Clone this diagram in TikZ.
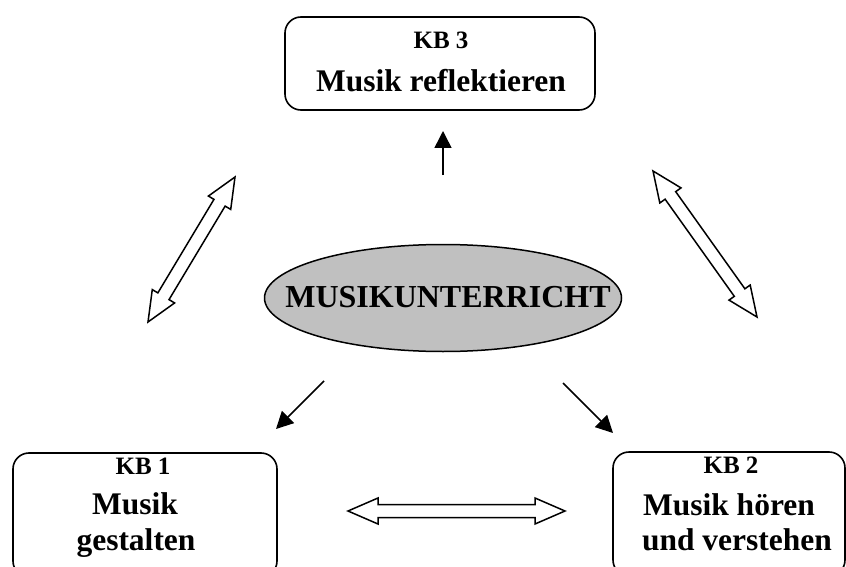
\documentclass[tikz,border=0pt]{standalone}
\usepackage{fontspec}
\setmainfont{Liberation Serif}
\usetikzlibrary{shapes.geometric,arrows.meta,calc}
\definecolor{ellgray}{HTML}{C0C0C0}
\tikzset{
  box/.style={draw, line width=1.6pt, rounded corners=16pt, inner sep=0pt},
  lbl/.style={anchor=base, inner sep=0pt, font=\bfseries},
  thin arrow/.style={line width=1.5pt, -{Triangle[length=17pt,width=17pt]}},
  fat/.style={draw, line width=1.5pt, line join=miter, fill=white},
}
\newcommand\hl{30pt}
\newcommand\hw{13pt}
\newcommand\sw{6.5pt}
\newcommand\fatarr[2]{%
  \draw[fat] (#1)
    -- ($($(#1)!\hl!(#2)$)!\hw!90:(#2)$)
    -- ($($(#1)!\hl!(#2)$)!\sw!90:(#2)$)
    -- ($($(#2)!\hl!(#1)$)!\sw!90:(#2)$)
    -- ($($(#2)!\hl!(#1)$)!\hw!90:(#2)$)
    -- (#2)
    -- ($($(#2)!\hl!(#1)$)!\hw!-90:(#2)$)
    -- ($($(#2)!\hl!(#1)$)!\sw!-90:(#2)$)
    -- ($($(#1)!\hl!(#2)$)!\sw!-90:(#2)$)
    -- ($($(#1)!\hl!(#2)$)!\hw!-90:(#2)$)
    -- cycle;}
\begin{document}
\begin{tikzpicture}[x=1pt, y=-1pt]
\useasboundingbox (0,0) rectangle (846,567);

% boxes
\node[box, minimum width=310pt, minimum height=93pt] (kb3) at (440,63.5) {};
\node[box, minimum width=264pt, minimum height=124pt] (kb1) at (145,515) {};
\node[box, minimum width=232pt, minimum height=124pt] (kb2) at (729,514) {};

% texts
\node[lbl, font=\bfseries\fontsize{25}{30}\selectfont] (t3a) at (441,49) {KB 3};
\node[lbl, font=\bfseries\fontsize{31.5}{36}\selectfont] (t3b) at (441,92) {Musik reflektieren};
\node[lbl, font=\bfseries\fontsize{25}{30}\selectfont] (t1a) at (143,474) {KB 1};
\node[lbl, font=\bfseries\fontsize{31.5}{36}\selectfont] (t1b) at (135,514) {Musik};
\node[lbl, font=\bfseries\fontsize{31.5}{36}\selectfont] (t1c) at (136,550) {gestalten};
\node[lbl, font=\bfseries\fontsize{25}{30}\selectfont] (t2a) at (731,473) {KB 2};
\node[lbl, font=\bfseries\fontsize{31.5}{36}\selectfont] (t2b) at (729,515) {Musik hören};
\node[lbl, font=\bfseries\fontsize{31.5}{36}\selectfont] (t2c) at (737,550) {und verstehen};

% central ellipse
\node[ellipse, draw, line width=1.5pt, fill=ellgray, minimum width=357pt, minimum height=107pt, inner sep=0pt] (mu) at (443,298) {};
\node[lbl, font=\bfseries\fontsize{32}{36}\selectfont] (mut) at (448,307) {MUSIKUNTERRICHT};

% thin arrows
\coordinate (u1) at (443,175); \coordinate (u2) at (443,131);
\coordinate (l1) at (324,381); \coordinate (l2) at (276,429);
\coordinate (r1) at (563,383); \coordinate (r2) at (613,433);
\draw[thin arrow] (u1) -- (u2);
\draw[thin arrow] (l1) -- (l2);
\draw[thin arrow] (r1) -- (r2);

% fat double arrows
\coordinate (fa1) at (148,322); \coordinate (fa2) at (235,177);
\coordinate (fb1) at (653,171); \coordinate (fb2) at (757,317);
\coordinate (fc1) at (348,511); \coordinate (fc2) at (565,511);
\fatarr{fa1}{fa2}
\fatarr{fb1}{fb2}
\fatarr{fc1}{fc2}
\end{tikzpicture}
\end{document}
